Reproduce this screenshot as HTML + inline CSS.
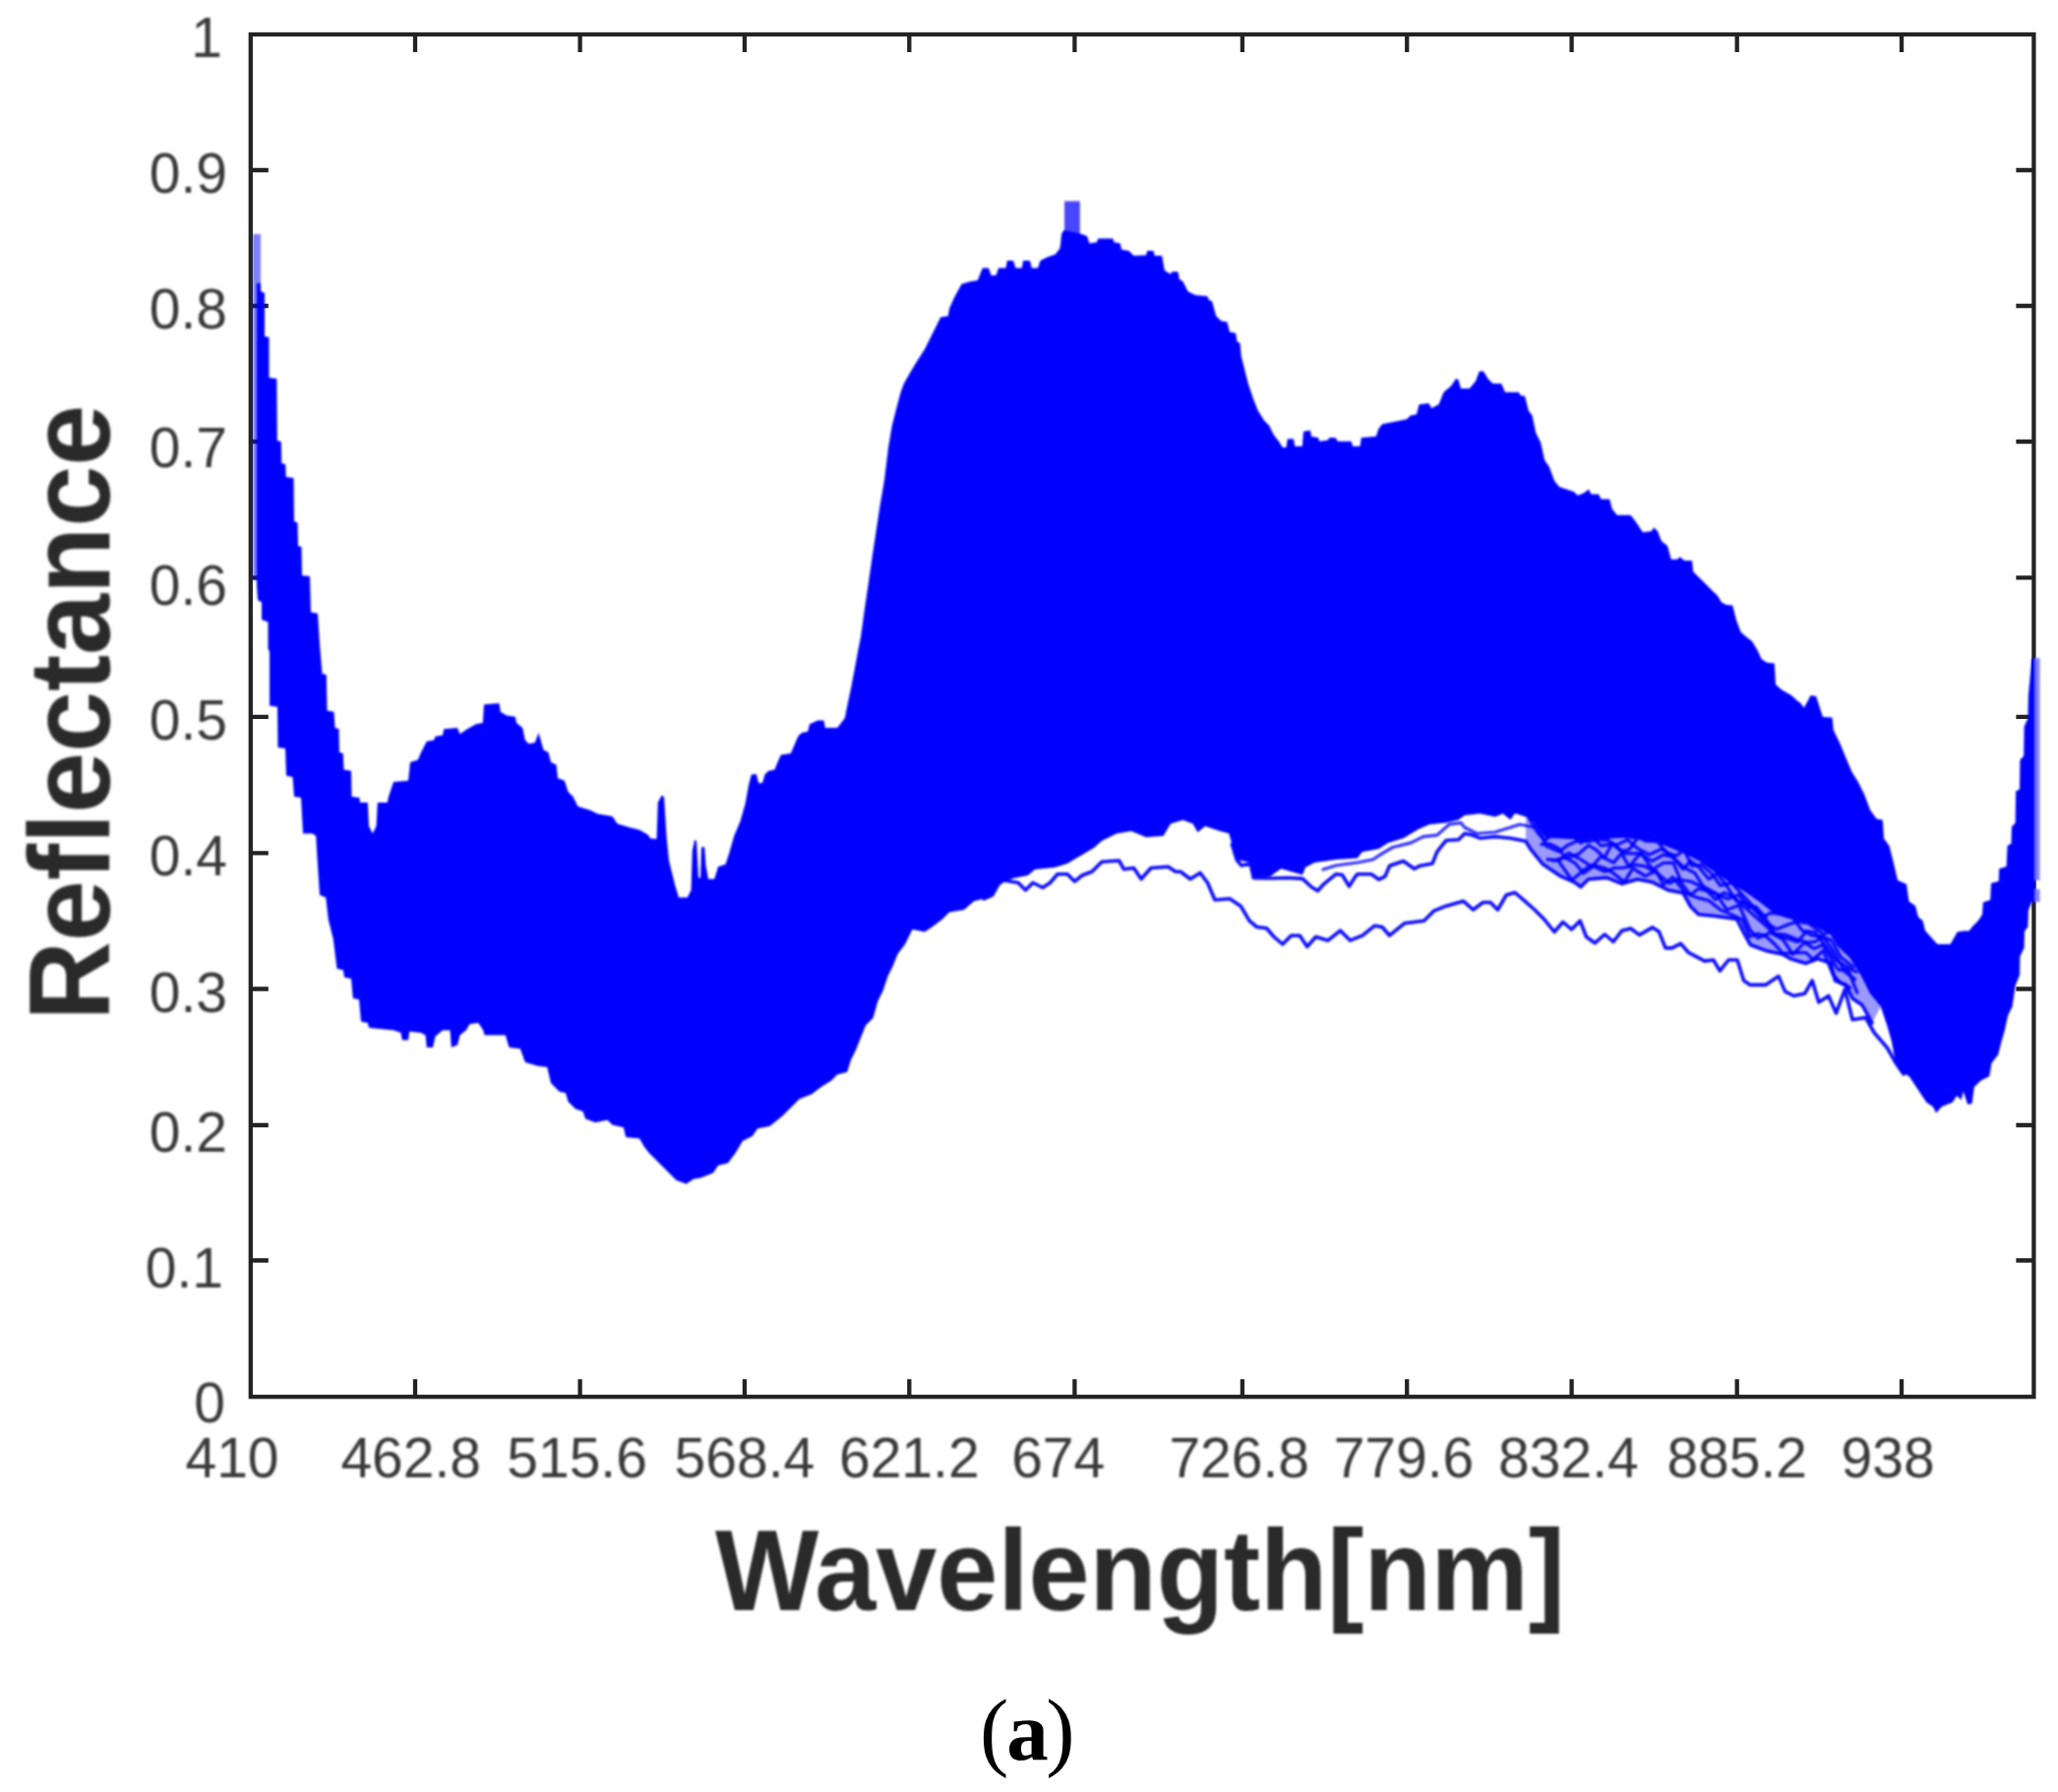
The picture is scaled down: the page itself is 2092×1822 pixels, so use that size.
<!DOCTYPE html>
<html lang="en"><head><meta charset="utf-8"><title>Reflectance vs Wavelength</title>
<style>
html,body{margin:0;padding:0;background:#fff;}
body{width:2092px;height:1822px;overflow:hidden;}
svg{display:block;}
text{font-variant-ligatures:none;font-feature-settings:"liga" 0;}
.tk{font-family:"Liberation Sans",Arial,Helvetica,sans-serif;font-size:57px;fill:#3a3a3a;}
.lb{font-family:"Liberation Sans",Arial,Helvetica,sans-serif;font-weight:bold;font-size:116px;fill:#2a2a2a;}
.cap{font-family:"Liberation Serif","Times New Roman",serif;font-size:85px;fill:#000;}
</style></head><body>
<svg width="2092" height="1822" viewBox="0 0 2092 1822">
<defs><filter id="soft" x="-2%" y="-2%" width="104%" height="104%"><feGaussianBlur stdDeviation="0.9"/></filter></defs>
<rect x="0" y="0" width="2092" height="1822" fill="#ffffff"/>

<g stroke="#232323" stroke-width="4.3" fill="none" stroke-linecap="butt">
<rect x="254.8" y="35.0" width="1812.6000000000001" height="1385.2"/>
<path d="M422,1420.2v-18M422,35.0v18M589.6,1420.2v-18M589.6,35.0v18M756.9,1420.2v-18M756.9,35.0v18M924.3,1420.2v-18M924.3,35.0v18M1092.4,1420.2v-18M1092.4,35.0v18M1262.9,1420.2v-18M1262.9,35.0v18M1430.2,1420.2v-18M1430.2,35.0v18M1597.6,1420.2v-18M1597.6,35.0v18M1765.7,1420.2v-18M1765.7,35.0v18M1933,1420.2v-18M1933,35.0v18M254.8,173h18M2067.4,173h-18M254.8,311h18M2067.4,311h-18M254.8,449h18M2067.4,449h-18M254.8,587.4h18M2067.4,587.4h-18M254.8,728.8h18M2067.4,728.8h-18M254.8,867.3h18M2067.4,867.3h-18M254.8,1005.5h18M2067.4,1005.5h-18M254.8,1144h18M2067.4,1144h-18M254.8,1281.5h18M2067.4,1281.5h-18"/>
</g>
<g id="data" filter="url(#soft)">
<rect x="257" y="238" width="8" height="52" fill="#0000ff" fill-opacity="0.5"/>
<rect x="257" y="290" width="4.5" height="300" fill="#0000ff" fill-opacity="0.5"/>
<rect x="2069" y="669" width="4.5" height="226" fill="#8080ff"/>
<rect x="2069" y="904" width="4.5" height="13" fill="#8080ff"/>
<rect x="1082" y="204.5" width="15.8" height="36" fill="#0000ff" fill-opacity="0.72"/>
<polygon points="261.0,288.0 265.0,288.0 265.0,296.0 269.0,298.0 269.0,342.0 273.5,343.0 273.5,384.0 281.3,385.0 281.8,448.0 285.8,449.0 286.2,471.0 290.2,472.0 290.7,485.0 298.5,486.0 299.0,530.0 302.5,531.5 303.0,555.0 306.5,556.0 307.0,585.0 315.0,586.0 316.0,622.5 323.0,623.8 325.0,655.0 327.5,685.0 331.8,686.0 332.5,722.5 339.5,723.8 340.5,740.0 344.5,741.0 345.0,765.0 348.8,766.0 349.5,782.5 357.0,783.8 357.5,810.0 365.5,811.0 366.0,816.0 373.8,816.0 375.0,840.0 378.8,847.5 382.5,840.0 383.8,816.0 393.8,816.0 395.0,810.0 400.0,795.0 415.0,793.8 417.0,775.0 425.0,772.5 427.5,766.0 433.8,753.8 441.2,752.5 442.5,748.8 450.0,747.5 451.2,741.2 465.0,740.0 467.5,746.2 475.0,741.2 483.8,736.2 490.8,735.0 492.0,716.2 507.5,715.0 508.8,723.8 515.0,727.5 523.8,728.8 525.0,735.0 531.2,740.0 533.8,752.5 537.5,756.2 543.8,755.0 547.5,745.0 550.0,753.8 552.5,762.5 557.5,765.0 560.0,775.0 565.5,777.5 567.0,791.2 573.8,793.8 577.5,805.0 582.5,810.0 587.5,820.0 600.0,823.8 607.5,827.5 622.5,830.0 627.5,837.5 640.0,841.2 650.0,843.8 658.8,848.8 661.2,852.5 667.5,853.0 668.8,816.0 672.5,808.8 675.0,810.0 677.5,850.0 680.0,875.0 686.2,900.0 690.0,912.5 698.8,912.5 702.5,905.0 703.8,865.0 706.2,853.8 708.0,855.0 710.0,892.5 712.0,892.5 713.0,861.2 716.2,861.2 717.5,880.0 720.0,893.8 726.2,893.8 730.0,881.2 737.5,878.8 741.2,867.5 746.2,850.0 752.5,835.0 757.5,817.5 761.2,797.5 763.8,787.5 768.8,787.0 771.2,796.2 775.0,796.0 777.5,787.5 781.2,783.8 787.5,782.5 790.0,776.0 793.8,767.5 803.8,766.0 807.5,757.5 811.2,748.8 815.0,745.0 821.2,743.8 823.0,736.2 831.2,732.5 837.5,732.5 838.8,740.0 851.2,740.0 855.0,735.0 858.8,730.0 861.8,715.0 865.0,700.0 868.8,680.0 872.5,660.0 875.0,647.5 878.8,620.0 882.5,595.0 886.5,567.0 890.6,540.0 894.7,513.0 899.0,488.0 903.0,455.0 906.8,432.5 911.0,416.0 915.5,399.0 918.8,390.0 923.8,381.2 931.2,368.8 940.0,355.0 947.5,340.0 956.2,322.5 963.8,321.2 965.0,313.8 970.0,302.5 977.5,288.8 986.2,286.2 993.8,285.0 998.8,272.5 1005.0,272.5 1007.5,280.0 1012.5,280.0 1015.0,272.5 1022.5,272.5 1023.8,265.0 1030.0,265.0 1032.5,272.5 1038.8,272.5 1040.0,265.0 1047.0,265.0 1048.8,272.5 1055.0,272.5 1057.5,265.0 1065.0,261.2 1072.5,258.8 1077.5,252.5 1079.2,237.5 1081.5,234.0 1098.0,237.5 1105.0,240.0 1107.5,247.5 1115.0,246.2 1116.2,242.5 1131.2,242.5 1132.5,246.2 1138.8,247.5 1140.0,253.8 1147.5,255.0 1152.5,260.0 1165.0,259.5 1166.2,255.0 1172.5,255.0 1173.8,260.0 1181.2,260.0 1183.8,275.0 1190.0,278.8 1191.2,276.2 1197.5,276.2 1198.8,283.8 1202.5,286.2 1207.5,296.2 1215.0,300.0 1227.5,301.2 1228.8,305.0 1232.0,306.2 1236.2,321.2 1241.2,326.2 1247.5,327.5 1250.0,337.5 1256.2,338.8 1257.5,347.5 1260.5,348.8 1261.8,362.5 1265.0,375.0 1268.8,390.0 1273.8,405.0 1278.8,417.5 1285.0,427.5 1290.0,432.5 1295.0,442.5 1300.0,448.8 1303.8,455.0 1307.5,455.0 1308.8,446.2 1315.0,446.2 1316.2,453.8 1323.8,453.8 1325.0,438.8 1332.0,437.5 1333.0,443.8 1340.0,445.0 1341.2,448.8 1350.0,447.5 1351.2,445.0 1357.5,445.0 1360.0,448.8 1373.8,448.8 1375.0,453.8 1382.5,453.8 1383.8,445.0 1398.8,443.8 1401.2,436.2 1405.0,431.2 1417.5,428.8 1430.0,426.2 1433.8,422.5 1440.0,421.2 1442.5,411.2 1452.5,410.0 1455.0,415.0 1462.5,411.2 1467.5,398.8 1475.0,392.5 1480.0,385.0 1482.5,386.0 1485.0,395.0 1493.8,395.0 1500.0,387.5 1503.8,377.5 1508.0,377.5 1512.5,385.0 1517.5,390.0 1526.2,390.0 1530.0,398.8 1543.8,398.8 1546.2,402.5 1550.0,402.5 1553.8,417.5 1557.5,422.5 1561.2,440.0 1566.2,450.0 1570.0,467.5 1575.0,475.0 1580.0,488.8 1585.0,495.0 1592.5,497.5 1600.0,500.0 1603.8,503.8 1610.0,501.2 1615.0,497.5 1617.5,502.5 1625.0,502.5 1627.5,507.5 1636.2,507.5 1638.8,517.5 1643.8,523.8 1657.5,523.8 1662.5,530.0 1667.5,537.5 1670.0,541.2 1678.8,540.0 1681.2,536.2 1685.0,540.0 1688.8,550.0 1695.0,555.0 1698.8,568.8 1705.0,568.8 1707.5,566.2 1712.5,570.0 1720.0,570.0 1721.2,581.2 1727.5,587.5 1733.8,593.8 1740.0,600.0 1746.2,606.0 1750.0,612.5 1755.0,615.0 1761.2,615.5 1765.0,630.5 1769.5,642.5 1775.0,647.5 1781.0,652.0 1787.0,662.0 1790.5,670.0 1796.2,673.8 1803.8,674.5 1805.0,696.0 1811.0,701.2 1821.0,707.0 1827.0,712.5 1830.0,714.5 1833.8,719.5 1838.0,712.0 1840.5,707.0 1846.2,708.0 1850.0,720.0 1853.0,729.0 1862.5,729.5 1863.8,742.5 1870.0,755.0 1876.2,770.0 1882.5,785.0 1888.8,795.0 1895.0,807.5 1901.2,823.8 1907.5,832.5 1913.8,833.8 1915.0,852.5 1920.5,860.0 1925.5,880.0 1929.0,895.0 1938.0,899.0 1940.5,916.5 1947.0,921.0 1950.0,932.5 1954.5,936.0 1957.0,946.2 1963.0,953.0 1969.5,960.0 1982.5,960.0 1986.0,954.0 1989.7,947.5 1996.0,946.5 2001.5,946.5 2005.5,941.5 2011.0,936.0 2015.0,929.8 2015.8,917.5 2023.2,915.0 2024.0,898.0 2031.7,895.9 2032.2,883.2 2039.6,881.0 2040.6,859.8 2044.5,857.7 2044.9,840.7 2048.7,836.5 2049.1,804.6 2053.0,802.5 2053.4,772.8 2057.2,768.6 2057.6,738.8 2061.4,730.4 2061.9,707.0 2065.5,669.0 2069.0,669.0 2069.0,917.0 2065.5,917.0 2061.9,925.6 2061.4,942.6 2058.0,946.8 2057.6,963.8 2053.4,972.3 2053.0,991.4 2048.8,1001.4 2045.5,1023.5 2041.1,1032.4 2037.8,1047.8 2034.5,1058.9 2031.2,1072.2 2024.5,1081.0 2022.3,1094.3 2013.5,1098.7 2006.8,1105.3 2004.6,1121.9 2000.2,1123.0 1995.8,1109.7 1993.6,1118.6 1989.2,1114.1 1984.8,1120.8 1973.7,1125.2 1968.2,1131.8 1964.9,1125.2 1958.2,1120.8 1949.4,1107.5 1940.6,1094.3 1931.7,1089.8 1927.0,1081.0 1922.9,1058.9 1918.5,1043.4 1911.8,1023.5 1900.8,1010.3 1891.9,992.6 1880.9,974.9 1869.8,961.7 1861.0,950.6 1851.0,945.3 1835.4,937.5 1819.9,934.4 1804.3,929.7 1788.8,917.3 1773.2,906.4 1757.7,897.1 1742.1,886.2 1726.6,875.3 1711.0,867.5 1695.5,861.3 1679.9,855.1 1648.8,852.0 1627.1,853.5 1602.2,853.5 1571.1,852.0 1563.3,841.1 1560.0,836.6 1551.0,830.4 1540.0,827.0 1535.4,833.5 1527.7,827.3 1519.9,830.4 1504.3,827.3 1488.8,828.9 1482.6,833.5 1470.1,836.6 1453.0,838.2 1442.1,842.9 1426.6,852.2 1411.0,856.9 1401.7,863.1 1384.6,866.2 1379.9,872.4 1358.2,874.0 1336.4,877.1 1327.1,881.7 1324.0,889.5 1302.2,883.3 1291.3,891.1 1274.2,891.1 1271.1,877.1 1257.1,874.0 1252.4,858.4 1249.3,847.5 1245.0,846.2 1240.0,845.0 1225.0,840.0 1217.5,846.2 1212.5,837.5 1202.5,833.8 1190.0,837.5 1182.5,850.0 1165.0,851.2 1150.0,845.0 1135.0,847.5 1120.0,855.0 1112.0,862.0 1102.0,868.0 1095.0,872.0 1085.0,878.0 1072.0,882.0 1052.0,884.0 1045.0,890.0 1030.0,893.0 1015.0,898.8 1008.8,910.0 1000.0,913.8 990.0,916.2 980.0,925.0 965.0,927.5 957.5,935.0 947.5,942.5 940.0,947.5 927.5,945.0 920.0,960.0 912.5,970.0 907.5,982.5 902.5,992.5 897.5,1007.5 892.5,1017.5 887.5,1035.0 880.0,1042.5 875.0,1055.0 870.0,1067.5 865.0,1077.5 861.2,1090.0 851.2,1092.5 845.0,1098.8 835.0,1105.0 825.0,1112.5 812.5,1117.5 805.0,1125.0 795.0,1135.0 782.5,1145.0 770.0,1147.5 765.0,1155.0 755.0,1160.0 747.5,1172.5 740.0,1182.5 730.0,1185.0 725.0,1192.5 712.5,1197.5 705.0,1198.8 697.5,1203.8 687.5,1200.0 680.0,1192.5 670.0,1182.5 660.0,1172.5 655.0,1166.2 650.0,1157.5 636.2,1156.2 633.8,1146.2 622.5,1143.8 617.5,1138.8 605.0,1141.2 595.0,1137.5 592.5,1130.0 585.0,1127.5 577.5,1120.0 575.0,1111.2 568.8,1110.0 560.0,1101.2 556.2,1085.0 546.2,1083.8 533.8,1080.0 528.8,1066.2 517.5,1065.0 513.8,1052.5 492.5,1052.5 491.2,1047.5 486.2,1040.0 477.5,1041.2 473.8,1047.5 467.5,1052.5 465.0,1062.5 458.8,1065.0 457.5,1047.5 450.0,1047.5 442.5,1053.8 440.0,1065.0 433.8,1065.0 432.5,1052.5 427.5,1050.0 416.2,1048.8 415.0,1057.5 408.8,1057.5 407.5,1050.0 400.0,1047.5 375.0,1045.0 373.8,1040.0 367.0,1038.8 365.0,1016.2 358.8,1015.0 357.0,995.0 350.0,993.8 348.8,986.2 342.5,985.0 338.8,955.0 333.8,935.0 331.2,912.5 325.0,910.0 322.5,872.5 321.2,850.0 317.5,847.5 308.0,847.5 306.0,811.0 299.0,810.0 297.5,790.0 291.0,788.8 290.0,761.0 282.5,760.0 282.0,718.8 274.0,717.5 274.0,662.5 272.5,660.0 272.5,632.5 266.0,630.0 266.0,612.5 262.0,610.0 261.0,595.0 261.0,590.0" fill="#0000ff"/>
<polygon points="1551.0,855.3 1555.5,862.9 1568.0,878.4 1586.6,890.9 1600.6,897.1 1606.9,901.7 1614.6,894.0 1633.3,892.4 1648.8,898.6 1664.4,894.0 1679.9,897.1 1695.5,904.9 1711.0,908.0 1718.8,922.0 1726.6,929.7 1742.1,931.3 1765.5,934.4 1771.7,946.8 1779.5,960.8 1796.6,967.1 1812.1,970.2 1819.9,974.8 1835.4,979.5 1847.8,974.9 1861.0,979.3 1865.4,997.0 1876.5,1001.4 1883.0,1015.0 1893.0,1022.0 1903.0,1040.0 1911.8,1023.5 1911.8,1023.5 1900.8,1010.3 1891.9,992.6 1880.9,974.9 1869.8,961.7 1861.0,950.6 1851.0,945.3 1835.4,937.5 1819.9,934.4 1804.3,929.7 1788.8,917.3 1773.2,906.4 1757.7,897.1 1742.1,886.2 1726.6,875.3 1711.0,867.5 1695.5,861.3 1679.9,855.1 1648.8,852.0 1627.1,853.5 1602.2,853.5 1571.1,852.0 1563.3,841.1 1560.0,836.6 1551.0,830.4" fill="#0000ff" fill-opacity="0.4"/>
<polyline points="1000.0,913.8 1008.8,910.0 1015.0,898.8 1020.0,895.0 1035.0,897.5 1042.5,905.0 1050.0,897.5 1060.0,902.5 1067.5,897.5 1075.0,888.8 1085.0,888.8 1092.5,896.2 1100.0,890.0 1110.0,886.2 1120.0,876.2 1137.5,875.0 1142.5,883.8 1152.5,882.5 1160.0,893.8 1170.0,882.5 1187.5,881.2 1195.0,886.2 1200.0,886.2 1210.0,893.8 1220.0,887.5 1227.5,897.5 1235.0,915.0 1250.0,913.8 1261.2,921.2 1270.0,936.2 1277.5,942.5 1287.5,943.8 1295.0,952.5 1303.8,960.0 1312.5,951.2 1321.2,951.2 1328.8,962.5 1337.5,952.5 1350.0,956.2 1362.5,946.2 1372.5,956.2 1385.0,951.2 1397.5,941.2 1405.0,942.5 1412.5,951.2 1427.5,938.8 1447.5,936.2 1457.5,926.2 1470.0,921.2 1487.5,916.2 1497.5,925.0 1507.5,917.5 1515.0,917.5 1522.5,925.0 1531.2,910.0 1540.0,907.5 1550.0,916.2 1560.0,925.0 1570.0,935.0 1580.0,947.5 1588.8,937.5 1597.5,945.0 1606.2,936.2 1612.5,952.5 1621.2,958.8 1631.2,950.0 1640.0,957.5 1648.8,946.2 1657.7,944.0 1666.5,950.6 1679.8,942.9 1686.4,947.3 1693.0,963.9 1699.7,963.9 1708.5,959.4 1716.2,968.3 1732.8,977.1 1741.7,976.0 1748.3,987.1 1757.1,976.0 1766.0,976.0 1772.6,997.0 1779.2,1001.4 1794.7,1001.4 1808.0,992.6 1814.6,1008.1 1823.4,1012.5 1834.5,1010.3 1842.2,997.0 1848.8,1019.1 1858.8,1012.5 1866.5,1030.2 1875.4,1005.9 1883.1,1036.8 1896.4,1034.6 1905.2,1050.0 1918.5,1065.5 1927.3,1081.0 1935.0,1092.0" fill="none" stroke="#0000ff" stroke-opacity="0.95" stroke-width="3.6" stroke-linejoin="round" stroke-linecap="round"/>
<polyline points="1252.4,858.4 1257.1,874.0 1262.0,880.0 1271.1,878.0 1274.2,892.6 1291.3,893.0 1310.0,892.5 1324.0,893.4 1333.3,902.0 1339.5,905.8 1345.7,898.8 1358.2,888.7 1364.4,889.5 1371.4,901.2 1376.8,892.6 1379.9,888.7 1393.9,888.7 1401.7,894.2 1407.9,891.1 1412.6,880.2 1426.6,875.5 1437.5,883.3 1443.7,880.2 1456.1,877.9 1460.8,866.2 1465.5,860.0 1470.1,854.5 1482.6,853.8 1488.8,847.5 1496.6,849.1 1504.3,852.2 1519.9,850.6 1535.4,852.2 1551.0,855.3 1555.5,862.9 1568.0,878.4 1586.6,890.9 1600.6,897.1 1606.9,901.7 1614.6,894.0 1633.3,892.4 1648.8,898.6 1664.4,894.0 1679.9,897.1 1695.5,904.9 1711.0,908.0 1718.8,922.0 1726.6,929.7 1742.1,931.3 1765.5,934.4 1771.7,946.8 1779.5,960.8 1796.6,967.1 1812.1,970.2 1819.9,974.8 1835.4,979.5 1847.8,974.9 1861.0,979.3 1865.4,997.0 1876.5,1001.4 1883.0,1015.0 1893.0,1022.0 1903.0,1040.0" fill="none" stroke="#0000ff" stroke-opacity="0.95" stroke-width="3.6" stroke-linejoin="round" stroke-linecap="round"/>
<polyline points="1345.0,884.0 1358.0,880.0 1379.9,877.0 1395.5,874.0 1404.8,867.8 1415.7,861.5 1434.4,856.9 1446.8,850.6 1460.8,849.1 1473.2,838.2 1485.0,836.6 1488.8,841.3 1501.2,847.5 1519.9,846.0 1535.4,841.3 1544.8,838.2 1560.0,841.3" fill="none" stroke="#0000ff" stroke-opacity="0.8" stroke-width="3.2" stroke-linejoin="round" stroke-linecap="round"/>
<polyline points="1555.0,832.9 1562.9,846.4 1570.3,854.5 1579.5,847.8 1589.6,848.5 1599.2,849.9 1606.7,856.9 1618.7,850.7 1627.0,859.7 1639.7,858.2 1649.1,865.3 1656.4,863.6 1665.1,851.3 1672.8,855.1 1684.7,855.5 1695.2,868.0 1704.4,869.9 1711.8,864.1 1720.0,880.4 1729.6,879.3 1740.1,888.6 1748.9,900.4 1760.1,897.5 1770.6,909.2 1782.8,922.1 1791.5,932.7 1799.3,928.4 1810.8,929.2 1820.7,930.3 1831.7,945.7 1842.2,951.3 1851.1,951.9 1861.6,955.9 1871.4,973.3 1884.0,983.1" fill="none" stroke="#0000ff" stroke-opacity="0.9" stroke-width="3.4" stroke-linejoin="round" stroke-linecap="round"/>
<polyline points="1561.0,836.4 1572.2,860.5 1585.2,865.9 1593.9,859.2 1604.9,854.3 1614.7,855.6 1622.4,853.5 1634.0,854.3 1642.5,859.2 1654.7,853.9 1664.4,862.5 1676.7,868.9 1688.9,863.3 1698.4,868.5 1710.7,883.7 1718.6,875.5 1727.0,881.6 1736.9,893.8 1745.4,888.3 1755.0,900.4 1765.4,916.4 1776.5,918.3 1787.2,928.8 1794.5,938.0 1806.2,944.8 1818.0,939.9 1827.4,937.0 1838.2,938.9 1845.6,944.0 1853.6,949.8 1860.9,947.3 1868.8,960.8 1878.0,969.5" fill="none" stroke="#0000ff" stroke-opacity="0.9" stroke-width="3.4" stroke-linejoin="round" stroke-linecap="round"/>
<polyline points="1567.0,858.5 1574.9,857.9 1584.0,862.2 1591.7,872.5 1604.7,868.3 1614.6,859.4 1622.2,863.8 1630.8,872.2 1638.7,857.9 1651.5,867.8 1659.3,867.8 1666.5,867.7 1679.4,875.4 1690.5,869.2 1699.7,871.1 1711.4,881.8 1723.0,887.8 1731.4,901.3 1744.3,908.6 1756.1,914.0 1767.6,909.8 1777.7,922.8 1784.8,922.0 1793.5,931.6 1804.7,950.9 1814.4,953.4 1827.3,957.7 1836.5,946.6 1844.8,947.9 1853.1,958.6 1865.5,975.8 1875.3,981.8 1887.1,988.3" fill="none" stroke="#0000ff" stroke-opacity="0.9" stroke-width="3.4" stroke-linejoin="round" stroke-linecap="round"/>
<polyline points="1573.0,873.7 1584.7,874.9 1594.6,867.2 1606.3,873.4 1618.1,881.3 1627.5,870.6 1640.2,877.1 1648.2,867.6 1656.1,881.0 1667.9,867.1 1679.9,883.9 1690.8,877.4 1701.1,877.3 1708.2,894.6 1719.1,896.4 1731.7,902.3 1743.9,914.5 1752.2,907.7 1761.0,911.1 1771.5,920.7 1781.0,929.0 1793.5,939.9 1803.2,949.3 1815.6,950.5 1828.1,955.9 1838.3,958.3 1845.4,957.4 1853.5,952.2 1865.3,969.7 1875.2,987.9 1885.5,995.7" fill="none" stroke="#0000ff" stroke-opacity="0.9" stroke-width="3.4" stroke-linejoin="round" stroke-linecap="round"/>
<polyline points="1579.0,875.1 1590.7,871.7 1601.1,877.5 1609.7,887.9 1619.8,880.6 1631.3,886.2 1641.0,882.5 1651.0,882.2 1662.2,879.3 1672.4,880.8 1685.0,888.4 1697.3,898.1 1705.8,893.5 1718.5,910.0 1726.3,903.6 1736.0,905.9 1744.4,908.6 1755.4,925.0 1767.8,920.3 1779.1,945.7 1787.0,953.8 1799.8,948.1 1812.5,955.2 1822.4,970.2 1834.4,958.4 1844.0,964.5 1853.0,960.6 1862.0,976.2 1869.1,986.2 1878.7,985.6 1887.7,1009.2" fill="none" stroke="#0000ff" stroke-opacity="0.9" stroke-width="3.4" stroke-linejoin="round" stroke-linecap="round"/>
<polyline points="1585.0,876.4 1597.9,894.7 1610.7,884.1 1619.3,879.3 1631.0,882.6 1638.8,886.9 1651.3,896.8 1659.8,882.7 1672.3,890.7 1683.5,885.2 1690.9,899.5 1700.4,891.8 1713.1,907.6 1724.9,912.5 1737.0,915.7 1749.2,925.2 1758.2,929.0 1770.8,934.8 1778.5,952.2 1787.0,949.4 1794.9,951.8 1803.2,959.1 1812.0,969.1 1820.7,969.0 1828.8,968.5 1835.9,968.6 1843.0,975.6 1853.3,966.6 1863.1,990.6 1870.8,999.4 1880.4,1004.1" fill="none" stroke="#0000ff" stroke-opacity="0.9" stroke-width="3.4" stroke-linejoin="round" stroke-linecap="round"/>
</g>
<g id="labels" filter="url(#soft)">
<text class="tk" x="226" y="57.5" text-anchor="end">1</text>
<text class="tk" x="231" y="195.7" text-anchor="end">0.9</text>
<text class="tk" x="231" y="333.5" text-anchor="end">0.8</text>
<text class="tk" x="231" y="474.9" text-anchor="end">0.7</text>
<text class="tk" x="231" y="614.7" text-anchor="end">0.6</text>
<text class="tk" x="231" y="752" text-anchor="end">0.5</text>
<text class="tk" x="231" y="890" text-anchor="end">0.4</text>
<text class="tk" x="231" y="1029" text-anchor="end">0.3</text>
<text class="tk" x="231" y="1170.5" text-anchor="end">0.2</text>
<text class="tk" x="227" y="1309" text-anchor="end">0.1</text>
<text class="tk" x="229" y="1446" text-anchor="end">0</text>
<text class="tk" x="236" y="1501.5" text-anchor="middle">410</text>
<text class="tk" x="417.7" y="1501.5" text-anchor="middle">462.8</text>
<text class="tk" x="586.6" y="1501.5" text-anchor="middle">515.6</text>
<text class="tk" x="756.9" y="1501.5" text-anchor="middle">568.4</text>
<text class="tk" x="924.3" y="1501.5" text-anchor="middle">621.2</text>
<text class="tk" x="1075.7" y="1501.5" text-anchor="middle">674</text>
<text class="tk" x="1259.7" y="1501.5" text-anchor="middle">726.8</text>
<text class="tk" x="1427" y="1501.5" text-anchor="middle">779.6</text>
<text class="tk" x="1594.4" y="1501.5" text-anchor="middle">832.4</text>
<text class="tk" x="1765.7" y="1501.5" text-anchor="middle">885.2</text>
<text class="tk" x="1919.1" y="1501.5" text-anchor="middle">938</text>
<text class="lb" x="1159" y="1636.5" text-anchor="middle" textLength="864" lengthAdjust="spacingAndGlyphs">Wavelength[nm]</text>
<text class="lb" transform="translate(111.3,724.6) rotate(-90)" text-anchor="middle" textLength="626" lengthAdjust="spacingAndGlyphs">Reflectance</text>
</g>
<text class="cap" y="1788.9" text-anchor="middle"><tspan x="1010.7" style="font-size:88px">(</tspan><tspan x="1044.5" font-weight="bold">a</tspan><tspan x="1078" style="font-size:88px">)</tspan></text>
</svg></body></html>
